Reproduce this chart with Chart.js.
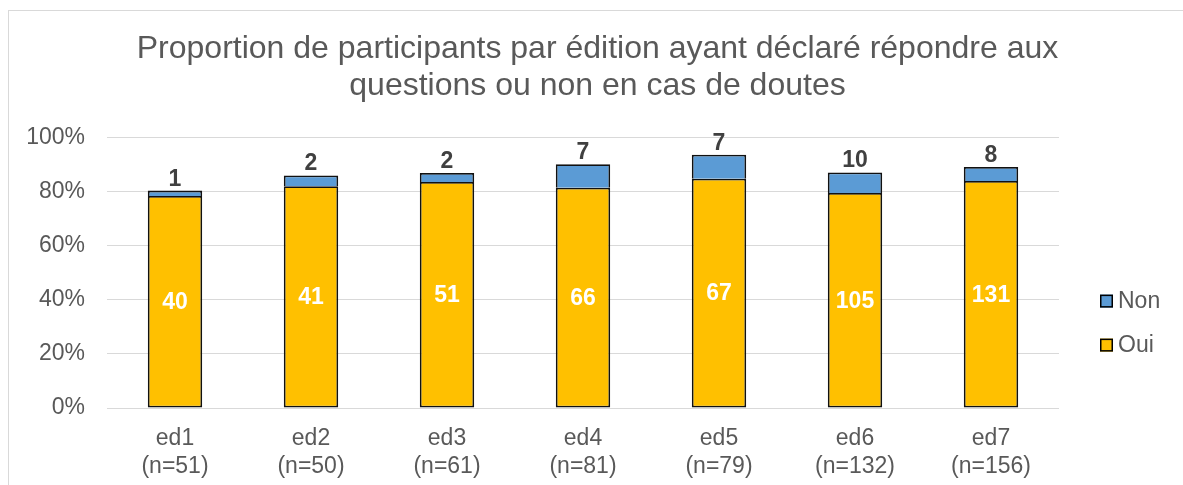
<!DOCTYPE html>
<html>
<head>
<meta charset="utf-8">
<script src="https://cdn.jsdelivr.net/npm/chart.js@4.4.0/dist/chart.umd.min.js"></script>
<style>
  html, body { margin: 0; padding: 0; background: #fff; }
</style>
</head>
<body>
<canvas id="chart" width="1183" height="485"></canvas>
<script>
// Réponses par édition
const editions = ["ed1", "ed2", "ed3", "ed4", "ed5", "ed6", "ed7"];
const participants = [51, 50, 61, 81, 79, 132, 156];
const ouiCounts = [40, 41, 51, 66, 67, 105, 131];
const nonCounts = [1, 2, 2, 7, 7, 10, 8];
const yTicks = [0, 20, 40, 60, 80, 100];

const FONT = "'Liberation Sans', Arial, sans-serif";
const GREY = "#595959";

// share of each edition's participants, in %
const ouiPct = ouiCounts.map((c, i) => (c / participants[i]) * 100);
const nonPct = nonCounts.map((c, i) => (c / participants[i]) * 100);

const labels = editions.map((e, i) => [e, "(n=" + participants[i] + ")"]);

// frame, value labels and legend
const extras = {
  id: "extras",
  beforeDraw(chart) {
    const ctx = chart.ctx;
    ctx.save();
    ctx.fillStyle = "#fff";
    ctx.fillRect(0, 0, chart.width, chart.height);
    ctx.strokeStyle = "#d9d9d9";
    ctx.lineWidth = 1;
    ctx.strokeRect(8.5, 10.5, chart.width + 20, chart.height + 20);
    ctx.restore();
  },
  afterDatasetsDraw(chart) {
    const ctx = chart.ctx;
    ctx.save();
    ctx.font = "bold 23px " + FONT;
    ctx.textAlign = "center";

    // Oui counts, centred in the yellow part
    ctx.fillStyle = "#fff";
    ctx.textBaseline = "middle";
    chart.getDatasetMeta(0).data.forEach((bar, i) => {
      ctx.fillText(String(ouiCounts[i]), bar.x, (bar.y + bar.base) / 2 + 1);
    });

    // Non counts, above the stack
    ctx.fillStyle = "#404040";
    ctx.textBaseline = "alphabetic";
    chart.getDatasetMeta(1).data.forEach((bar, i) => {
      ctx.fillText(String(nonCounts[i]), bar.x, bar.y - 5);
    });
    ctx.restore();
  },
  afterDraw(chart) {
    const ctx = chart.ctx;
    const area = chart.chartArea;
    const x = area.right + 41;
    const items = [chart.data.datasets[1], chart.data.datasets[0]];
    ctx.save();
    ctx.font = "23px " + FONT;
    ctx.textBaseline = "middle";
    ctx.textAlign = "left";
    items.forEach((ds, i) => {
      const y = area.top + 157 + i * 44;
      ctx.fillStyle = ds.backgroundColor;
      ctx.fillRect(x, y, 13, 13);
      ctx.strokeStyle = "#000";
      ctx.lineWidth = 1.5;
      ctx.strokeRect(x + 0.75, y + 0.75, 11.5, 11.5);
      ctx.fillStyle = GREY;
      ctx.fillText(ds.label, x + 18, y + 7);
    });
    ctx.restore();
  }
};

new Chart(document.getElementById("chart"), {
  type: "bar",
  data: {
    labels: labels,
    datasets: [
      {
        label: "Oui",
        data: ouiPct,
        backgroundColor: "#FFC000",
        borderColor: "#111",
        borderWidth: 1.8,
        borderSkipped: false,
        barPercentage: 0.4,
        categoryPercentage: 1
      },
      {
        label: "Non",
        data: nonPct,
        backgroundColor: "#5B9BD5",
        borderColor: "#111",
        borderWidth: 1.8,
        borderSkipped: "start",
        barPercentage: 0.4,
        categoryPercentage: 1
      }
    ]
  },
  options: {
    responsive: false,
    animation: false,
    devicePixelRatio: 1,
    layout: { padding: { left: 12, right: 0, top: 0, bottom: 0 } },
    plugins: {
      legend: { display: false },
      tooltip: { enabled: false },
      title: {
        display: true,
        text: [
          "Proportion de participants par édition ayant déclaré répondre aux",
          "questions ou non en cas de doutes"
        ],
        color: GREY,
        font: { family: FONT, size: 32, weight: "normal", lineHeight: 1.15 },
        padding: { top: 31, bottom: 33 }
      }
    },
    scales: {
      x: {
        stacked: true,
        afterFit: (s) => { s.height = 77; },
        grid: { display: false },
        border: { display: false },
        ticks: {
          color: GREY,
          padding: 9,
          font: { family: FONT, size: 23, lineHeight: 1.2 },
          maxRotation: 0
        }
      },
      y: {
        stacked: true,
        min: 0,
        max: 100,
        afterBuildTicks: (s) => { s.ticks = yTicks.map((v) => ({ value: v })); },
        afterFit: (s) => { s.width = 95; },
        grid: { color: "#d9d9d9", lineWidth: 1, drawTicks: false },
        border: { display: false },
        ticks: {
          color: GREY,
          padding: 22,
          font: { family: FONT, size: 23 },
          callback: (v) => v + "%"
        }
      },
      legendSpace: {
        type: "linear",
        position: "right",
        display: true,
        grid: { display: false },
        border: { display: false },
        ticks: { display: false },
        afterFit: (s) => { s.width = 124; }
      }
    }
  },
  plugins: [extras]
});
</script>
</body>
</html>
